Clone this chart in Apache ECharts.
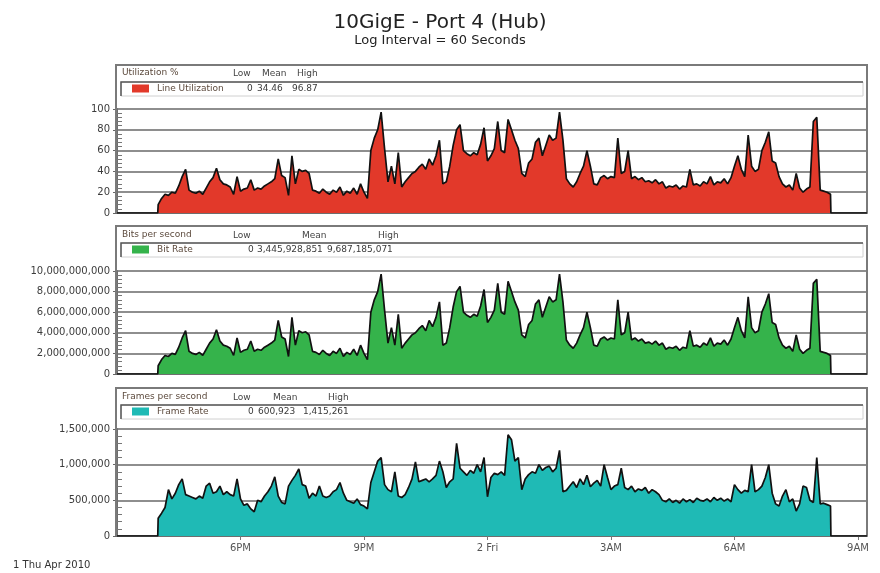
<!DOCTYPE html>
<html>
<head>
<meta charset="utf-8">
<title>10GigE - Port 4 (Hub)</title>
<script src="https://cdn.jsdelivr.net/npm/echarts@6/dist/echarts.min.js"></script>
<style>
  html, body { margin: 0; padding: 0; background: #fff; }
  #chart { width: 880px; height: 573px; }
</style>
</head>
<body>
<div id="chart"></div>
<script>
// samples every 5 minutes, first one at 16:00 Thu 1 Apr (x axis is hours from midnight)
const sampleStart = 16
const sampleStep = 5 / 60
const xMin = 15
const xMax = 33.22

// Line Utilization (%)
const utilization = [
  8, 14, 18, 17, 20, 19, 26, 35, 42, 22,
  20, 19, 21, 18, 24, 30, 34, 43, 32, 28,
  27, 25, 18, 35, 21, 23, 24, 32, 22, 24,
  23, 26, 28, 30, 33, 52, 36, 34, 17, 55,
  28, 42, 40, 41, 38, 22, 21, 19, 23, 20,
  18, 22, 20, 25, 17, 21, 19, 24, 18, 28,
  20, 14, 60, 72, 80, 97, 62, 30, 45, 28,
  58, 25, 30, 34, 38, 40, 44, 47, 42, 52,
  46, 55, 70, 28, 30, 45, 65, 80, 85, 60,
  57, 55, 58, 56, 66, 82, 50, 55, 62, 88,
  60, 58, 90, 80, 70, 62, 38, 35, 48, 52,
  68, 72, 55, 65, 75, 70, 72, 97, 70, 33,
  28, 25, 30, 38, 45, 60, 45, 28, 27, 34,
  36, 33, 35, 34, 72, 38, 40, 60, 33, 35,
  32, 34, 30, 31, 29, 32, 28, 30, 24, 26,
  25, 27, 23, 26, 25, 42, 27, 28, 26, 30,
  28, 35, 27, 30, 29, 33, 28, 34, 45, 55,
  42, 35, 75, 45, 40, 42, 60, 68, 78, 50,
  48, 35, 28, 25, 27, 22, 38, 24, 20, 23,
  25, 88, 92, 22, 21, 20, 18
]

// Bit Rate (Gbit/s)
const bitRateGbps = [
  0.8, 1.4, 1.8, 1.7, 2.0, 1.9, 2.6, 3.5, 4.2, 2.2,
  2.0, 1.9, 2.1, 1.8, 2.4, 3.0, 3.4, 4.3, 3.2, 2.8,
  2.7, 2.5, 1.8, 3.5, 2.1, 2.3, 2.4, 3.2, 2.2, 2.4,
  2.3, 2.6, 2.8, 3.0, 3.3, 5.2, 3.6, 3.4, 1.7, 5.5,
  2.8, 4.2, 4.0, 4.1, 3.8, 2.2, 2.1, 1.9, 2.3, 2.0,
  1.8, 2.2, 2.0, 2.5, 1.7, 2.1, 1.9, 2.4, 1.8, 2.8,
  2.0, 1.4, 6.0, 7.2, 8.0, 9.7, 6.2, 3.0, 4.5, 2.8,
  5.8, 2.5, 3.0, 3.4, 3.8, 4.0, 4.4, 4.7, 4.2, 5.2,
  4.6, 5.5, 7.0, 2.8, 3.0, 4.5, 6.5, 8.0, 8.5, 6.0,
  5.7, 5.5, 5.8, 5.6, 6.6, 8.2, 5.0, 5.5, 6.2, 8.8,
  6.0, 5.8, 9.0, 8.0, 7.0, 6.2, 3.8, 3.5, 4.8, 5.2,
  6.8, 7.2, 5.5, 6.5, 7.5, 7.0, 7.2, 9.7, 7.0, 3.3,
  2.8, 2.5, 3.0, 3.8, 4.5, 6.0, 4.5, 2.8, 2.7, 3.4,
  3.6, 3.3, 3.5, 3.4, 7.2, 3.8, 4.0, 6.0, 3.3, 3.5,
  3.2, 3.4, 3.0, 3.1, 2.9, 3.2, 2.8, 3.0, 2.4, 2.6,
  2.5, 2.7, 2.3, 2.6, 2.5, 4.2, 2.7, 2.8, 2.6, 3.0,
  2.8, 3.5, 2.7, 3.0, 2.9, 3.3, 2.8, 3.4, 4.5, 5.5,
  4.2, 3.5, 7.5, 4.5, 4.0, 4.2, 6.0, 6.8, 7.8, 5.0,
  4.8, 3.5, 2.8, 2.5, 2.7, 2.2, 3.8, 2.4, 2.0, 2.3,
  2.5, 8.8, 9.2, 2.2, 2.1, 2.0, 1.8
]

// Frame Rate (thousand frames/s)
const frameRateK = [
  250, 320, 400, 650, 520, 600, 720, 800, 580, 560,
  540, 520, 560, 530, 700, 740, 600, 620, 700, 580,
  620, 580, 560, 800, 520, 430, 450, 380, 340, 500,
  480, 560, 620, 700, 830, 560, 470, 450, 700, 780,
  850, 940, 720, 700, 530, 600, 560, 700, 560, 540,
  560, 620, 650, 750, 600, 500, 480, 460, 520, 440,
  420, 380, 750, 900, 1050, 1100, 720, 650, 620, 900,
  560, 540, 580, 680, 800, 1040, 760, 780, 800, 760,
  800, 850, 1050, 900, 680, 760, 800, 1300, 950, 900,
  850, 920, 880, 1000, 900, 1100, 550, 820, 880, 860,
  900, 850, 1420, 1350, 1050, 1100, 650, 800, 860, 900,
  880, 1000, 920, 960, 980, 900, 950, 1200, 620, 640,
  700, 760, 680, 800, 720, 850, 690, 740, 780, 700,
  1000, 820, 650, 700, 720, 950, 680, 650, 700, 620,
  660, 640, 680, 600, 650, 620, 580, 500, 480, 520,
  470, 500, 460, 520, 480, 510, 470, 530, 500, 490,
  520, 480, 540, 500, 530, 490, 520, 480, 720, 650,
  600, 640, 620, 1000, 620, 650, 700, 820, 1000, 600,
  450, 420, 560, 650, 480, 520, 350, 450, 700, 680,
  500, 470, 1100, 450, 460, 440, 420
]

const tickHours = [18, 21, 24, 27, 30, 33]
const tickNames = ['6PM', '9PM', '2 Fri', '3AM', '6AM', '9AM']

const statHeads = ['Low', 'Mean', 'High']
const utilStats = ['0', '34.46', '96.87']
const bitStats = ['0', '3,445,928,851', '9,687,185,071']
const frameStats = ['0', '600,923', '1,415,261']

const FONT = 'DejaVu Sans'

function commas(v) {
  return String(Math.round(v)).replace(/\B(?=(\d{3})+(?!\d))/g, ',')
}

// zero before the log starts and after it stops
function toPairs(values) {
  let pairs = [[xMin, 0], [sampleStart - 0.01, 0]]
  values.forEach((v, i) => {
    pairs.push([sampleStart + i * sampleStep, v])
  })
  pairs.push([sampleStart + (values.length - 1) * sampleStep + 0.01, 0])
  pairs.push([xMax, 0])
  return pairs
}

const panels = [
  {
    title: 'Utilization %', name: 'Line Utilization', values: utilization, color: '#e2392a',
    max: 100, interval: 20, fmt: v => String(v),
    stats: utilStats, headX: [233, 262, 297], valX: [247, 257, 292],
    boxTop: 65, gridTop: 109, gridHeight: 104, legTop: 82, headY: 74, rowY: 89
  },
  {
    title: 'Bits per second', name: 'Bit Rate', values: bitRateGbps, color: '#35b34b',
    max: 10, interval: 2, fmt: v => commas(v * 1e9),
    stats: bitStats, headX: [233, 302, 378], valX: [248, 257, 327],
    boxTop: 226, gridTop: 271, gridHeight: 103, legTop: 243, headY: 236, rowY: 250
  },
  {
    title: 'Frames per second', name: 'Frame Rate', values: frameRateK, color: '#1fbab5',
    max: 1500, interval: 500, fmt: v => commas(v * 1000),
    stats: frameStats, headX: [233, 273, 328], valX: [248, 258, 303],
    boxTop: 388, gridTop: 429, gridHeight: 107, legTop: 405, headY: 398, rowY: 412
  }
]

let grids = []
let xAxes = []
let yAxes = []
let series = []
let legends = []
let graphics = []

panels.forEach((p, i) => {
  let last = i === panels.length - 1
  grids.push({ left: 117, right: 13, top: p.gridTop, height: p.gridHeight })

  xAxes.push({
    type: 'value', gridIndex: i, min: xMin, max: xMax,
    axisLine: { show: true, onZero: false, lineStyle: { color: '#6e6e6e', width: 2 } },
    axisTick: { show: last, customValues: tickHours, length: 4, lineStyle: { color: '#777' } },
    axisLabel: {
      show: last, customValues: tickHours, margin: 7, color: '#555', fontSize: 10, fontFamily: FONT,
      formatter: v => tickNames[tickHours.indexOf(Math.round(v))] || ''
    },
    splitLine: { show: false }
  })

  // main axis: labels, outside ticks, grid lines
  yAxes.push({
    type: 'value', gridIndex: i, min: 0, max: p.max, interval: p.interval,
    axisLine: { show: true, lineStyle: { color: '#6e6e6e', width: 2 } },
    axisTick: { show: true, length: 4, lineStyle: { color: '#666' } },
    axisLabel: { margin: 7, color: '#3c3c3c', fontSize: 10, fontFamily: FONT, formatter: p.fmt },
    splitLine: { show: true, lineStyle: { color: '#8e8e8e', width: 2 } }
  })
  // helper axis only for the small inside ticks on the left edge
  yAxes.push({
    type: 'value', gridIndex: i, min: 0, max: p.max, interval: p.interval,
    position: 'right', offset: -750,
    axisLine: { show: false },
    axisTick: { show: false },
    axisLabel: { show: false },
    splitLine: { show: false },
    minorTick: { show: true, splitNumber: 5, length: 5, lineStyle: { color: '#777' } }
  })

  series.push({
    type: 'line', name: p.name, xAxisIndex: i, yAxisIndex: i * 2,
    data: toPairs(p.values),
    showSymbol: false, symbol: 'none',
    lineStyle: { color: '#111', width: 1.7 },
    itemStyle: { color: p.color },
    areaStyle: { color: p.color, opacity: 1 },
    animation: false
  })

  legends.push({
    data: [p.name], left: 132, top: p.legTop + 2, padding: 0,
    icon: 'rect', itemWidth: 17, itemHeight: 8,
    selectedMode: false, itemStyle: { borderWidth: 0 },
    textStyle: { fontSize: 9, color: '#5c4a3d', fontFamily: FONT, padding: [0, 0, 0, 3] }
  })

  // panel frame
  graphics.push({
    type: 'polyline', z: 1, silent: true,
    shape: { points: [[116, p.gridTop + p.gridHeight], [116, p.boxTop], [867, p.boxTop], [867, p.gridTop + p.gridHeight]] },
    style: { stroke: '#7a7a7a', lineWidth: 2, fill: null }
  })
  // legend row box (sunken look)
  graphics.push({
    type: 'rect', z: 1, silent: true,
    shape: { x: 121, y: p.legTop, width: 742, height: 14 },
    style: { fill: '#fff', stroke: '#d0d0d0', lineWidth: 1 }
  })
  graphics.push({
    type: 'polyline', z: 1, silent: true,
    shape: { points: [[121, p.legTop + 14], [121, p.legTop], [863, p.legTop]] },
    style: { stroke: '#555', lineWidth: 1.5, fill: null }
  })
  graphics.push({
    type: 'text', z: 5, left: 122, top: p.headY - 6,
    style: { text: p.title, fill: '#5c4a3d', fontSize: 9, fontFamily: FONT }
  })
  statHeads.forEach((h, k) => {
    graphics.push({
      type: 'text', z: 5, left: p.headX[k], top: p.headY - 5,
      style: { text: h, fill: '#444', fontSize: 9, fontFamily: FONT }
    })
    graphics.push({
      type: 'text', z: 5, left: p.valX[k], top: p.rowY - 5,
      style: { text: p.stats[k], fill: '#3a3a3a', fontSize: 9, fontFamily: FONT }
    })
  })
})

graphics.push({
  type: 'text', left: 13, top: 560,
  style: { text: '1 Thu Apr 2010', fill: '#333', fontSize: 10, fontFamily: FONT }
})

let chart = echarts.init(document.getElementById('chart'))
chart.setOption({
  animation: false,
  backgroundColor: '#fff',
  title: {
    text: '10GigE - Port 4 (Hub)',
    subtext: 'Log Interval = 60 Seconds',
    left: 'center', top: 8, itemGap: 1,
    textStyle: { fontSize: 20, fontWeight: 'normal', color: '#222', fontFamily: FONT },
    subtextStyle: { fontSize: 13, color: '#222', fontFamily: FONT }
  },
  grid: grids,
  xAxis: xAxes,
  yAxis: yAxes,
  legend: legends,
  series: series,
  graphic: graphics
})
</script>
</body>
</html>
